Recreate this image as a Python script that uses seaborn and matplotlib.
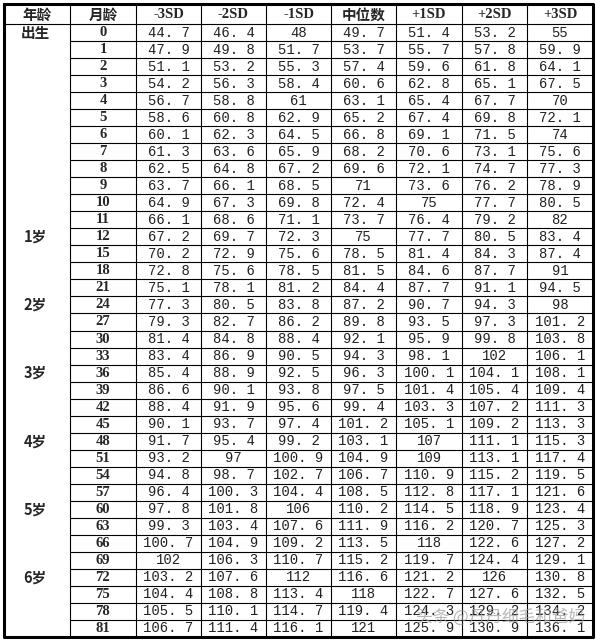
import matplotlib.pyplot as plt
import seaborn as sns

sns.set_theme(style="white")
plt.rcParams['font.family'] = ['Noto Sans CJK SC', 'DejaVu Sans']

headers = ['年龄', '月龄', '-3SD', '-2SD', '-1SD', '中位数', '+1SD', '+2SD', '+3SD']
months = [0, 1, 2, 3, 4, 5, 6, 7, 8, 9, 10, 11, 12, 15, 18, 21, 24, 27, 30, 33,
          36, 39, 42, 45, 48, 51, 54, 57, 60, 63, 66, 69, 72, 75, 78, 81]
age_labels = {0: '出生', 12: '1岁', 24: '2岁', 36: '3岁', 48: '4岁', 60: '5岁', 72: '6岁'}
sd_m3 = [44.7, 47.9, 51.1, 54.2, 56.7, 58.6, 60.1, 61.3, 62.5, 63.7, 64.9, 66.1, 67.2, 70.2, 72.8, 75.1,
         77.3, 79.3, 81.4, 83.4, 85.4, 86.6, 88.4, 90.1, 91.7, 93.2, 94.8, 96.4, 97.8, 99.3, 100.7, 102,
         103.2, 104.4, 105.5, 106.7]
sd_m2 = [46.4, 49.8, 53.2, 56.3, 58.8, 60.8, 62.3, 63.6, 64.8, 66.1, 67.3, 68.6, 69.7, 72.9, 75.6, 78.1,
         80.5, 82.7, 84.8, 86.9, 88.9, 90.1, 91.9, 93.7, 95.4, 97, 98.7, 100.3, 101.8, 103.4, 104.9, 106.3,
         107.6, 108.8, 110.1, 111.4]
sd_m1 = [48, 51.7, 55.3, 58.4, 61, 62.9, 64.5, 65.9, 67.2, 68.5, 69.8, 71.1, 72.3, 75.6, 78.5, 81.2,
         83.8, 86.2, 88.4, 90.5, 92.5, 93.8, 95.6, 97.4, 99.2, 100.9, 102.7, 104.4, 106, 107.6, 109.2, 110.7,
         112, 113.4, 114.7, 116.1]
median = [49.7, 53.7, 57.4, 60.6, 63.1, 65.2, 66.8, 68.2, 69.6, 71, 72.4, 73.7, 75, 78.5, 81.5, 84.4,
          87.2, 89.8, 92.1, 94.3, 96.3, 97.5, 99.4, 101.2, 103.1, 104.9, 106.7, 108.5, 110.2, 111.9, 113.5, 115.2,
          116.6, 118, 119.4, 121]
sd_p1 = [51.4, 55.7, 59.6, 62.8, 65.4, 67.4, 69.1, 70.6, 72.1, 73.6, 75, 76.4, 77.7, 81.4, 84.6, 87.7,
         90.7, 93.5, 95.9, 98.1, 100.1, 101.4, 103.3, 105.1, 107, 109, 110.9, 112.8, 114.5, 116.2, 118, 119.7,
         121.2, 122.7, 124.3, 125.9]
sd_p2 = [53.2, 57.8, 61.8, 65.1, 67.7, 69.8, 71.5, 73.1, 74.7, 76.2, 77.7, 79.2, 80.5, 84.3, 87.7, 91.1,
         94.3, 97.3, 99.8, 102, 104.1, 105.4, 107.2, 109.2, 111.1, 113.1, 115.2, 117.1, 118.9, 120.7, 122.6, 124.4,
         126, 127.6, 129.2, 130.9]
sd_p3 = [55, 59.9, 64.1, 67.5, 70, 72.1, 74, 75.6, 77.3, 78.9, 80.5, 82, 83.4, 87.4, 91, 94.5,
         98, 101.2, 103.8, 106.1, 108.1, 109.4, 111.3, 113.3, 115.3, 117.4, 119.5, 121.6, 123.4, 125.3, 127.2, 129.1,
         130.8, 132.5, 134.2, 136.1]
series = [sd_m3, sd_m2, sd_m1, median, sd_p1, sd_p2, sd_p3]

W, H = 596, 641
fig = plt.figure(figsize=(W / 100, H / 100), dpi=100)
ax = fig.add_axes([0, 0, 1, 1])
ax.set_xlim(0, W)
ax.set_ylim(H, 0)
ax.axis('off')

col_x = [4, 70, 136, 201, 266, 331, 396, 462, 527, 593]
top, bottom = 4, 637
head_h = 20
nrows = len(months)
rh = (bottom - top - head_h) / nrows

def fmt(v):
    return str(int(v)) if v == int(v) else f"{v:.1f}".replace('.', '. ')

# grid lines
for i in range(0, nrows):
    y = top + head_h + i * rh
    ax.plot([col_x[1], col_x[-1]], [y, y], color='black', lw=0.8)
for x in col_x[1:-1]:
    ax.plot([x, x], [top, bottom], color='black', lw=0.8)
ax.plot([col_x[0], col_x[-1], col_x[-1], col_x[0], col_x[0]],
        [top, top, bottom, bottom, top], color='black', lw=2.2)
ax.plot([col_x[0], col_x[1]], [top + head_h, top + head_h], color='black', lw=0.8)

cx = [(col_x[i] + col_x[i + 1]) / 2 for i in range(len(col_x) - 1)]
for j, h in enumerate(headers):
    ax.text(cx[j], top + head_h / 2 + 1, h, ha='center', va='center', fontsize=10.5,
            fontweight='bold', family=['Liberation Serif', 'Noto Sans CJK SC'] if j > 1 and j != 5 else None)

for i, m in enumerate(months):
    y = top + head_h + (i + 0.5) * rh
    if m in age_labels:
        ax.text(cx[0] - 2, y, age_labels[m], ha='center', va='center', fontsize=10.5, fontweight='bold')
    ax.text(cx[1], y, str(m), ha='center', va='center', fontsize=10.5, fontweight='bold',
            family='Liberation Serif')
    for j, s in enumerate(series):
        ax.text(cx[j + 2], y, fmt(s[i]), ha='center', va='center', fontsize=10,
                family='Liberation Mono', color='#222222')

ax.text(585, 617, '头条 @丹丹细毛和爸妈', ha='right', va='center', fontsize=12,
        color='#999999', alpha=0.7)

fig.savefig('out.png', dpi=100, facecolor='white')
